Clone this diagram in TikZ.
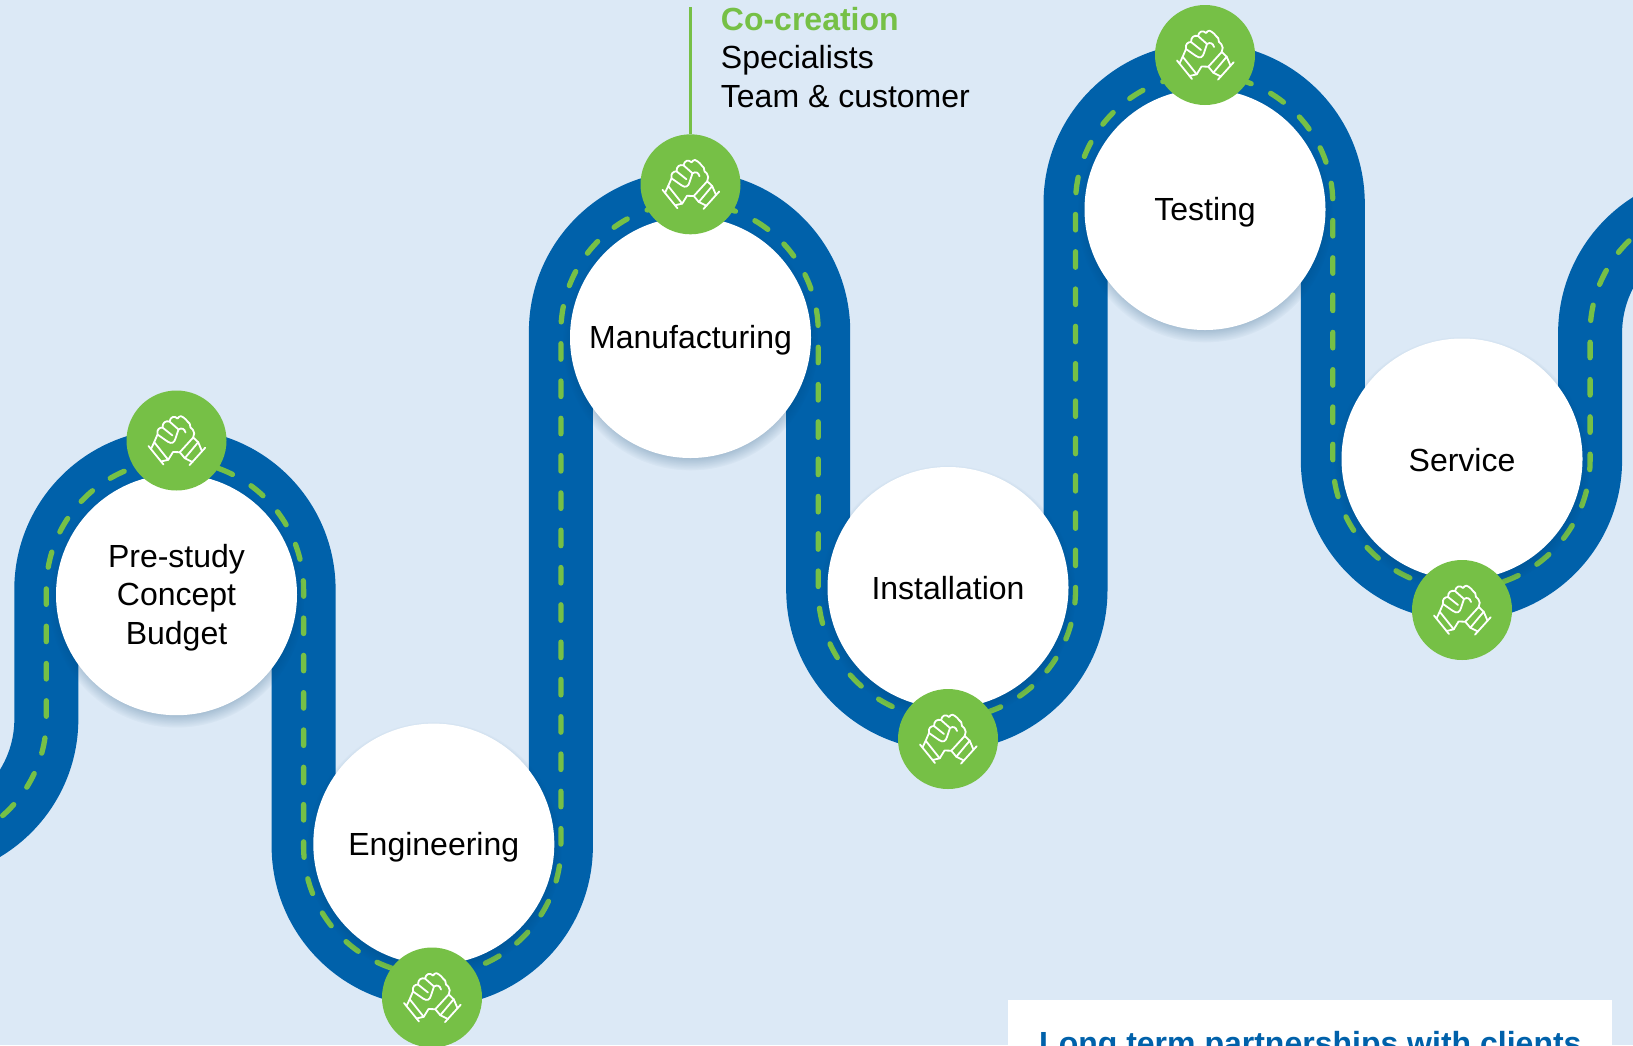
\documentclass[tikz,border=0pt]{standalone}
\usepackage{fontspec}
\setmainfont{Liberation Sans}
\usetikzlibrary{positioning}
\usetikzlibrary{shadows}
\definecolor{bgblue}{RGB}{220,233,246}
\definecolor{roadblue}{RGB}{0,97,170}
\definecolor{leafgreen}{RGB}{118,192,70}
\tikzset{
  stepcircle/.style={circle,fill=white,minimum size=241pt,inner sep=0pt,
    circular drop shadow={shadow xshift=0pt,shadow yshift=-5pt,shadow scale=1.06,opacity=.35,fill=roadblue!60!black}},
  steplabel/.style={inner sep=0pt,align=center,font=\fontsize{32}{38.5}\selectfont},
  greendot/.style={circle,fill=leafgreen,minimum size=100pt,inner sep=0pt},
  handline/.style={white,line width=1.8pt,line join=round,line cap=round},
  hands/.pic={
    % left cuff
    \draw[handline] (-28,-5.5) -- (-13,-24);
    \draw[handline] (-25.5,-8.5) -- (-22.3,-1.7) -- (-8.3,-19.3) -- (-15.5,-21);
    % right cuff
    \draw[handline] (28.7,-7.2) -- (13,-24.6);
    \draw[handline] (25.5,-10.7) -- (21.7,-1.7) -- (8.3,-17.7) -- (16,-21.5);
    \draw[handline] (21.7,-1.7) -- (16.7,3) -- (3.3,-11.7) -- (8.3,-17.7);
    % fist
    \draw[handline] (-22.3,-1.7) -- (-19,6)
      .. controls (-20,11) and (-17,13) .. (-14,13)
      .. controls (-14,18) and (-11,20) .. (-7,19)
      .. controls (-6,24) and (-2,25) .. (1,22)
      .. controls (3,25) and (6,25) .. (7,23)
      .. controls (9,22) and (10,20) .. (11,19)
      .. controls (13,18) and (14,16) .. (14,13)
      .. controls (16,12) and (17,10) .. (17.7,7.3)
      -- (16.7,3);
    \draw[handline] (-8.3,-19.3) -- (-3.5,-11.5) -- (3.3,-11.7);
    \draw[handline] (-19,6) -- (-9,-1);
    \draw[handline] (-14,13) -- (-4,5);
    \draw[handline] (-7,19) -- (2,11);
    \draw[handline] (-9,-1) .. controls (-5,-4) and (-2,-2) .. (-1,2) -- (2,11) .. controls (5,13) and (8,12) .. (9,8);
  }
}
\newcommand{\roadpath}{(-82.3,-847.6) arc[start angle=270,end angle=360,radius=128.65pt]
  -- (46.3,-589.5) arc[start angle=180,end angle=0,radius=128.65pt]
  -- (303.6,-846) arc[start angle=180,end angle=360,radius=128.65pt]
  -- (560.9,-331.5) arc[start angle=180,end angle=0,radius=128.65pt]
  -- (818.2,-590) arc[start angle=180,end angle=360,radius=128.65pt]
  -- (1075.5,-203.5) arc[start angle=180,end angle=0,radius=128.65pt]
  -- (1332.8,-460) arc[start angle=180,end angle=360,radius=128.65pt]
  -- (1590.1,-333) arc[start angle=180,end angle=90,radius=128.65pt]}
\begin{document}
\begin{tikzpicture}[x=1pt,y=1pt]
\useasboundingbox (0,-1045) rectangle (1633,0);
\clip (0,-1045) rectangle (1633,0);
\fill[bgblue] (0,-1045) rectangle (1633,0);
% road
\draw[roadblue,line width=64pt] \roadpath;
\draw[leafgreen,line width=5.3pt,line cap=round,dash pattern=on 15.5pt off 21.8pt,dash phase=19pt] \roadpath;
% leader
\coordinate (leadtop) at (690.5,-7.3);
% steps
\foreach \name/\xx/\yy/\dd/\txt in {prestudy/176.5/594.7/3/{Pre-study\\Concept\\Budget},
    engineering/433.8/844.1/3/Engineering,manufacturing/690.5/337.5/3/Manufacturing,
    installation/948/587.5/0.5/Installation,testing/1205/209.5/3/Testing,service/1462/459/1/Service} {
  \node[stepcircle] (\name) at (\xx,-\yy) {};
  \node[steplabel] (\name label) at (\xx,-\yy-\dd) {\txt};
}
\foreach \name/\xx/\yy in {dotprestudy/176.5/440.5,dotengineering/432/997.5,dotmanufacturing/690.5/184.3,
    dotinstallation/948/739,dottesting/1205/55,dotservice/1462/610} {
  \node[greendot] (\name) at (\xx,-\yy) {};
  \pic at (\name) {hands};
}
\draw[leafgreen,line width=3pt] (leadtop) -- (dotmanufacturing);
\node[anchor=base west,inner sep=0pt,align=left,font=\fontsize{32}{38.5}\selectfont] (cocreation) at (720.7,-107)
  {\textcolor{leafgreen}{\bfseries Co-creation}\\Specialists\\Team \& customer};
% box at the bottom
\node[anchor=north west,fill=white,minimum width=604pt,minimum height=80pt,inner sep=0pt] (partnerbox) at (1008,-1000) {};
\node[anchor=base west,inner sep=0pt,text=roadblue,font=\fontsize{32}{38.5}\selectfont\bfseries] (partnertext) at (1039,-1054.7)
  {Long term partnerships with clients};
\end{tikzpicture}
\end{document}
